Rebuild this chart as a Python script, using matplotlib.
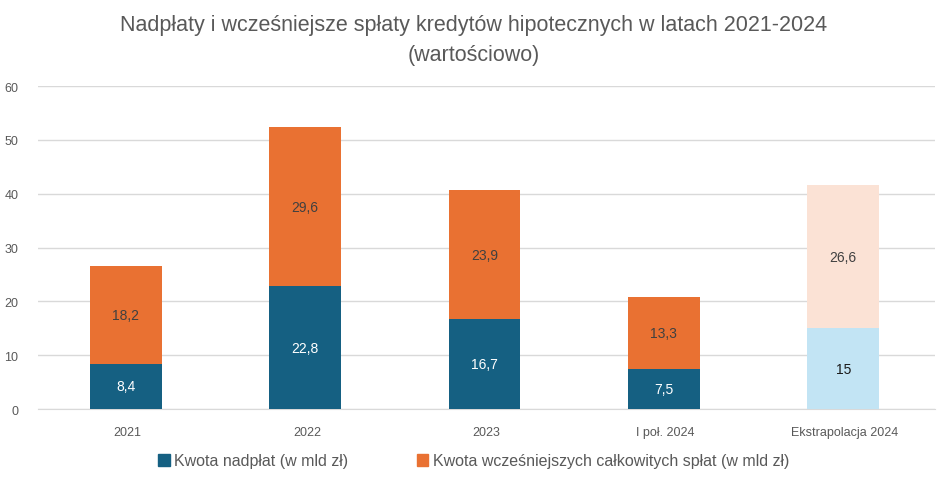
import matplotlib.pyplot as plt
from matplotlib.patches import Patch
import numpy as np

categories = ["2021", "2022", "2023", "I poł. 2024", "Ekstrapolacja 2024"]
nadplaty = [8.4, 22.8, 16.7, 7.5, 15]
splaty = [18.2, 29.6, 23.9, 13.3, 26.6]
nadplaty_lbl = ["8,4", "22,8", "16,7", "7,5", "15"]
splaty_lbl = ["18,2", "29,6", "23,9", "13,3", "26,6"]

plt.rcParams['font.family'] = ['Liberation Sans', 'DejaVu Sans']

blue_c = ["#156082"] * 4 + ["#C2E4F4"]
orange_c = ["#E97132"] * 4 + ["#FBE2D5"]

fig = plt.figure(figsize=(9.48, 4.85), dpi=100)
ax = fig.add_axes([0.040, 0.1546, 0.946, 0.666])

x = np.arange(len(categories))
w = 0.40
ax.bar(x - 0.01, nadplaty, w, color=blue_c, zorder=3)
ax.bar(x - 0.01, splaty, w, bottom=nadplaty, color=orange_c, zorder=3)

for i in range(len(categories)):
    tc = "white" if i < 4 else "#1a1a1a"
    ax.text(x[i] - 0.01, nadplaty[i] / 2, nadplaty_lbl[i], ha="center", va="center",
            color=tc, fontsize=10)
    ax.text(x[i] - 0.01, nadplaty[i] + splaty[i] / 2, splaty_lbl[i], ha="center", va="center",
            color="#404040", fontsize=10)

ax.set_xlim(-0.5, 4.5)
ax.set_ylim(0, 60)
ax.set_yticks(range(0, 61, 10))
ax.set_xticks(x)
ax.set_xticklabels(categories)
ax.tick_params(axis="both", length=0, labelsize=9, colors="#595959")
ax.tick_params(axis="x", pad=12)
ax.tick_params(axis="y", pad=14)
ax.grid(axis="y", color="#D9D9D9", linewidth=1, zorder=0)
for s in ["top", "right", "left"]:
    ax.spines[s].set_visible(False)
ax.spines["bottom"].set_color("#D9D9D9")

fig.text(0.5, 1 - 25 / 485, "Nadpłaty i wcześniejsze spłaty kredytów hipotecznych w latach 2021-2024",
         ha="center", va="center", fontsize=15.5, color="#595959")
fig.text(0.5, 1 - 55 / 485, "(wartościowo)",
         ha="center", va="center", fontsize=15.5, color="#595959")

handles = [Patch(color="#156082"), Patch(color="#E97132")]
fig.legend(handles, ["Kwota nadpłat (w mld zł)", "Kwota wcześniejszych całkowitych spłat (w mld zł)"],
           loc="center", bbox_to_anchor=(0.5, 1 - 462 / 485), ncol=2, frameon=False,
           fontsize=11.5, labelcolor="#595959", handlelength=0.7, handleheight=0.7,
           handletextpad=0.3, columnspacing=4.3)

fig.savefig("out.png", dpi=100)
